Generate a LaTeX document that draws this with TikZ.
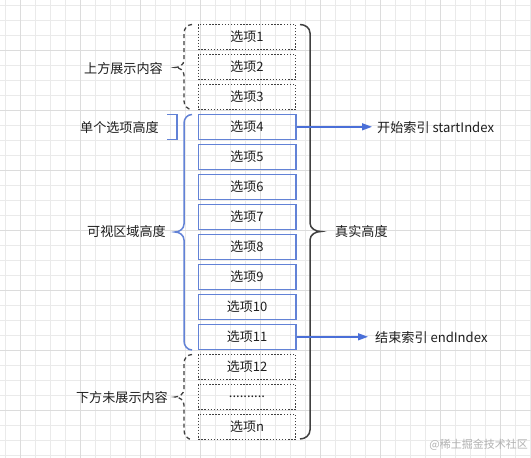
\documentclass[tikz,border=0pt]{standalone}
\usepackage{fontspec}
\setmainfont{Noto Sans CJK SC}
\usetikzlibrary{arrows.meta}
\definecolor{boxblue}{HTML}{6282D6}
\definecolor{arrblue}{HTML}{4A6FD8}
\definecolor{darkline}{HTML}{404040}
\definecolor{gridminor}{HTML}{EAEAEA}
\definecolor{gridmajor}{HTML}{DCDCDC}
\definecolor{txt}{HTML}{1E1E1E}
\tikzset{
  item/.style={draw, minimum width=97.5pt, minimum height=25pt, inner sep=0pt, font=\fontsize{13}{15}\selectfont, text=txt},
  hidden/.style={item, draw=darkline, line width=1.2pt, dash pattern=on 1.4pt off 1.7pt},
  shown/.style={item, draw=boxblue, line width=1.5pt},
  lbl/.style={inner sep=0pt, font=\fontsize{13.1}{15}\selectfont, text=txt},
  dbrace/.style={draw=darkline, line width=1.3pt, dash pattern=on 4pt off 3pt},
  bbrace/.style={draw=boxblue, line width=1.5pt},
  kbrace/.style={draw=darkline, line width=1.5pt},
  conn/.style={draw=arrblue, line width=1.4pt, -{Triangle[length=10pt,width=7pt]}}
}
\begin{document}
\begin{tikzpicture}[x=1pt,y=-1pt]
\useasboundingbox (0,0) rectangle (531,458);
\fill[white] (0,0) rectangle (531,458);
% grid
\foreach \i in {0,...,35} {
  \draw[gridminor, line width=0.7pt] (5+15*\i,0) -- (5+15*\i,458);
}
\foreach \j in {0,...,30} {
  \draw[gridminor, line width=0.7pt] (0,5+15*\j) -- (531,5+15*\j);
}
\foreach \i in {0,...,8} {
  \draw[gridmajor, line width=0.7pt] (20+60*\i,0) -- (20+60*\i,458);
}
\foreach \j in {0,...,7} {
  \draw[gridmajor, line width=0.7pt] (0,50+60*\j) -- (531,50+60*\j);
}
% items
\node[hidden] (b1) at (247,36.8) {选项1};
\node[hidden] (b2) at (247,66.8) {选项2};
\node[hidden] (b3) at (247,96.8) {选项3};
\node[shown] (b4) at (247,126.8) {选项4};
\node[shown] (b5) at (247,156.8) {选项5};
\node[shown] (b6) at (247,186.8) {选项6};
\node[shown] (b7) at (247,216.8) {选项7};
\node[shown] (b8) at (247,246.8) {选项8};
\node[shown] (b9) at (247,276.8) {选项9};
\node[shown] (b10) at (247,306.8) {选项10};
\node[shown] (b11) at (247,336.8) {选项11};
\node[hidden] (b12) at (247,366.8) {选项12};
\node[hidden] (b13) at (247,396.8) {..........};
\node[hidden] (b14) at (247,426.8) {选项n};
% right brace (real height)
\draw[kbrace] (300,24.5) to[out=0,in=90] (310,33) -- (310,223)
  to[out=-90,in=180] (321,231.5) to[out=180,in=90] (310,240) -- (310,430)
  to[out=-90,in=0] (300,439);
\node[lbl, anchor=west] (real) at (335,231.5) {真实高度};
% upper dashed brace
\draw[dbrace] (192,24.5) to[out=180,in=90] (184,33) -- (184,60)
  to[out=-90,in=0] (175,67.5) to[out=0,in=90] (184,75) -- (184,101)
  to[out=-90,in=180] (192,109.5);
\node[lbl, anchor=east] (up) at (163,68) {上方展示内容};
% single item height bracket
\draw[bbrace] (167,114.5) -- (177,114.5) -- (177,139.5) -- (167,139.5);
\node[lbl, anchor=east] (single) at (159,127.5) {单个选项高度};
% visible area brace
\draw[bbrace] (192,114.5) to[out=180,in=90] (184,123) -- (184,224)
  to[out=-90,in=0] (175,232) to[out=0,in=90] (184,240) -- (184,341)
  to[out=-90,in=180] (192,350);
\node[lbl, anchor=east] (vis) at (166,231.5) {可视区域高度};
% lower dashed brace
\draw[dbrace] (192,354.5) to[out=180,in=90] (184,363) -- (184,389)
  to[out=-90,in=0] (175,397) to[out=0,in=90] (184,405) -- (184,430)
  to[out=-90,in=180] (192,439.5);
\node[lbl, anchor=east] (down) at (168,397.5) {下方未展示内容};
% arrows
\node[lbl, anchor=west] (start) at (377,128) {开始索引 startIndex};
\node[lbl, anchor=west] (end) at (375,338) {结束索引 endIndex};
\coordinate (s4) at (372,126.8);
\coordinate (s11) at (368,336.8);
\draw[conn] (b4.east) -- (s4);
\draw[conn] (b11.east) -- (s11);
% watermark
\node[inner sep=0pt, anchor=east, text=black!30, font=\fontsize{11}{13}\selectfont] (wm) at (528,445) {@稀土掘金技术社区};
\end{tikzpicture}
\end{document}
